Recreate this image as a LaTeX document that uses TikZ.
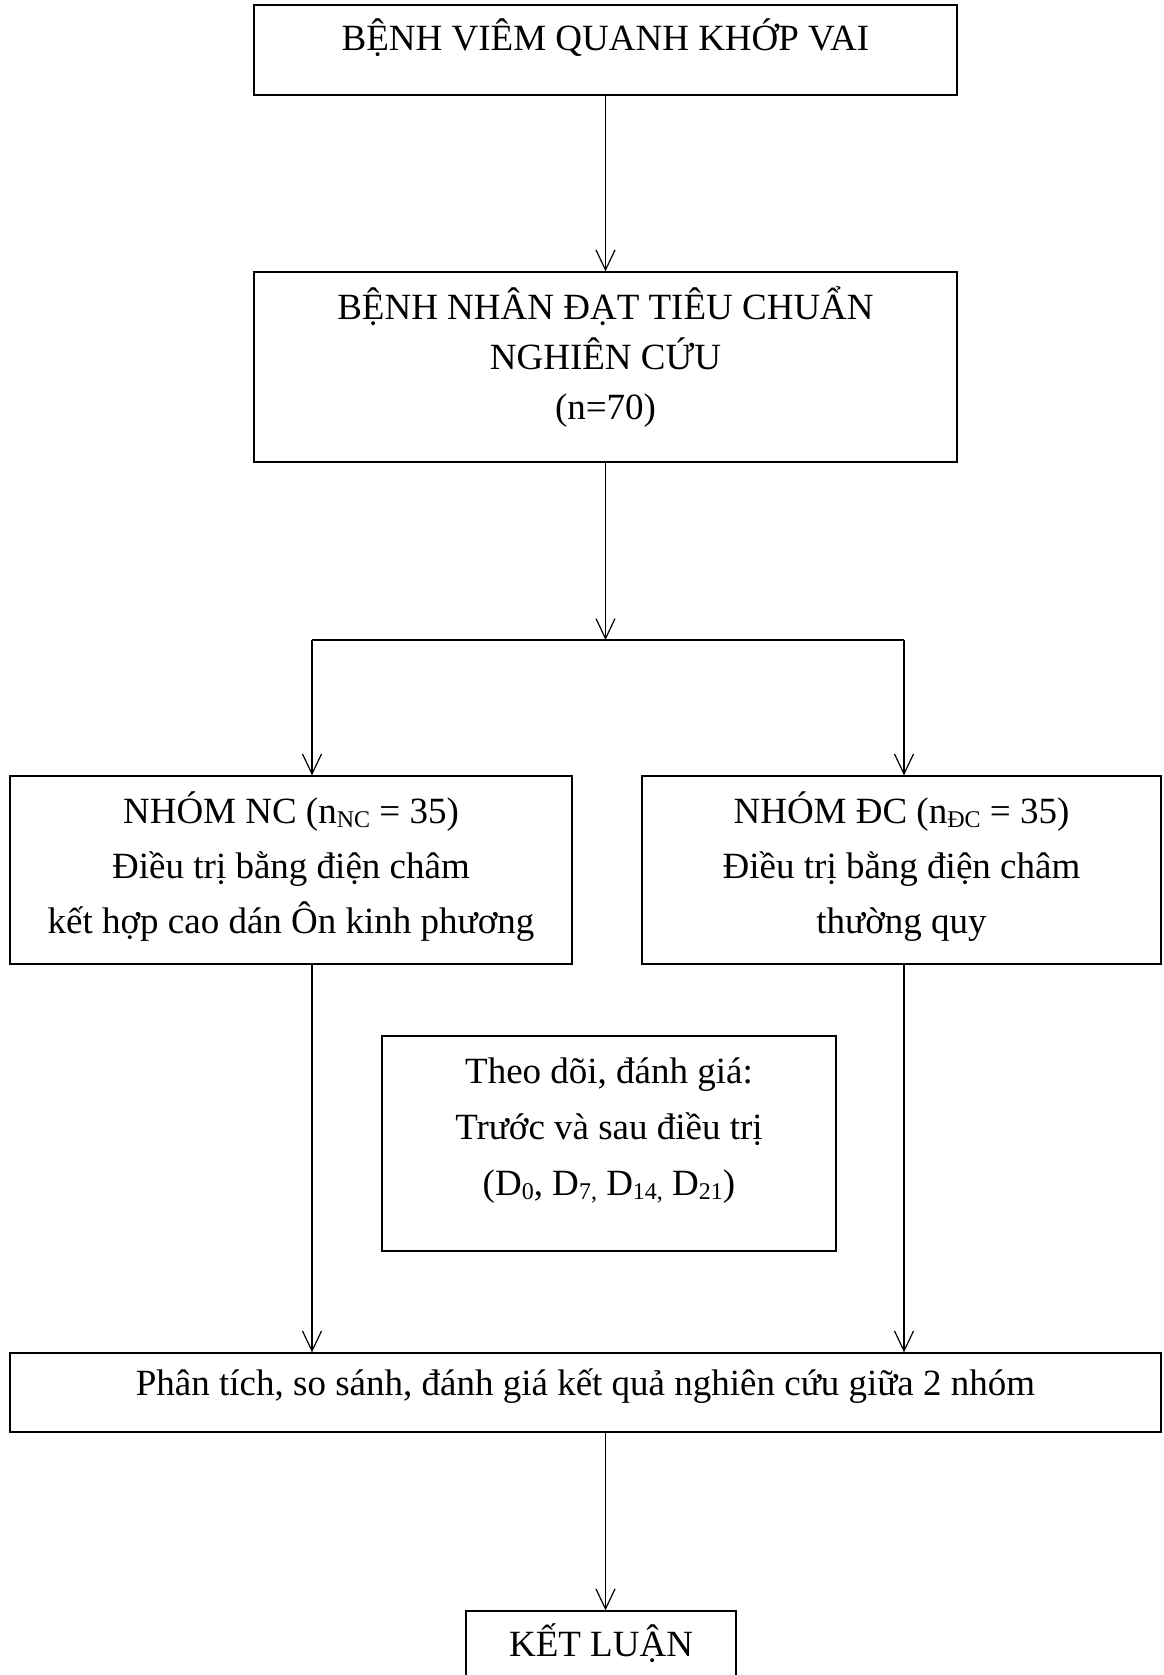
\documentclass[tikz,border=0pt]{standalone}
\usepackage{fontspec}
\setmainfont{Liberation Serif}
\usetikzlibrary{arrows.meta}
\newcommand{\mysub}[1]{\raisebox{-0.22ex}{\fontsize{24}{24}\selectfont #1}}
\begin{document}
\begin{tikzpicture}[x=1pt,y=-1pt,
  box/.style={draw, line width=1.3pt, inner sep=0pt},
  txt/.style={font=\fontsize{37}{52}\selectfont, align=center, inner sep=0pt},
  arr/.style={line width=1.2pt, -{Straight Barb[length=20pt,width=19pt,line width=1.2pt]}}]
\useasboundingbox (0,0) rectangle (1163,1675);
% boxes
\node[box, minimum width=703pt, minimum height=90pt] (b1) at (605.5,50) {};
\node[txt] (t1) at (605.5,38) {BỆNH VIÊM QUANH KHỚP VAI};
\node[box, minimum width=703pt, minimum height=190pt] (b2) at (605.5,367) {};
\node[txt, font=\fontsize{37}{50}\selectfont] (t2) at (605.5,357) {BỆNH NHÂN ĐẠT TIÊU CHUẨN\\NGHIÊN CỨU\\(n=70)};
\node[box, minimum width=562pt, minimum height=188pt] (nc) at (291,870) {};
\node[txt, font=\fontsize{37}{55}\selectfont] (tnc) at (291,867) {NHÓM NC (n\mysub{NC} = 35)\\Điều trị bằng điện châm\\kết hợp cao dán Ôn kinh phương};
\node[box, minimum width=519pt, minimum height=188pt] (dc) at (901.5,870) {};
\node[txt, font=\fontsize{37}{55}\selectfont] (tdc) at (901.5,867) {NHÓM ĐC (n\mysub{ĐC} = 35)\\Điều trị bằng điện châm\\thường quy};
\node[box, minimum width=454pt, minimum height=215pt] (mid) at (609,1143.5) {};
\node[txt, font=\fontsize{37}{56}\selectfont] (tmid) at (609,1131) {Theo dõi, đánh giá:\\Trước và sau điều trị\\(D\mysub{0}, D\mysub{7,} D\mysub{14,} D\mysub{21})};
\node[box, minimum width=1151pt, minimum height=79pt] (pt) at (585.5,1392.5) {};
\node[txt] (tpt) at (585.5,1386) {Phân tích, so sánh, đánh giá kết quả nghiên cứu giữa 2 nhóm};
\node[box, minimum width=270pt, minimum height=90pt] (kl) at (601,1656) {};
\node[txt] (tkl) at (601,1643) {KẾT LUẬN};
% coordinates
\coordinate (cx) at (605.5,0);
\coordinate (split) at (605.5,640);
\coordinate (L) at (312,640);
\coordinate (R) at (904,640);
% connectors
\draw[arr] (b1.south) -- (b2.north);
\draw[arr] (b2.south) -- (split);
\draw[line width=1.2pt] (L) -- (R);
\draw[arr] (L) -- (L |- nc.north);
\draw[arr] (R) -- (R |- dc.north);
\draw[arr] (L |- nc.south) -- (L |- pt.north);
\draw[arr] (R |- dc.south) -- (R |- pt.north);
\draw[arr] (cx |- pt.south) -- (cx |- kl.north);
\end{tikzpicture}
\end{document}
